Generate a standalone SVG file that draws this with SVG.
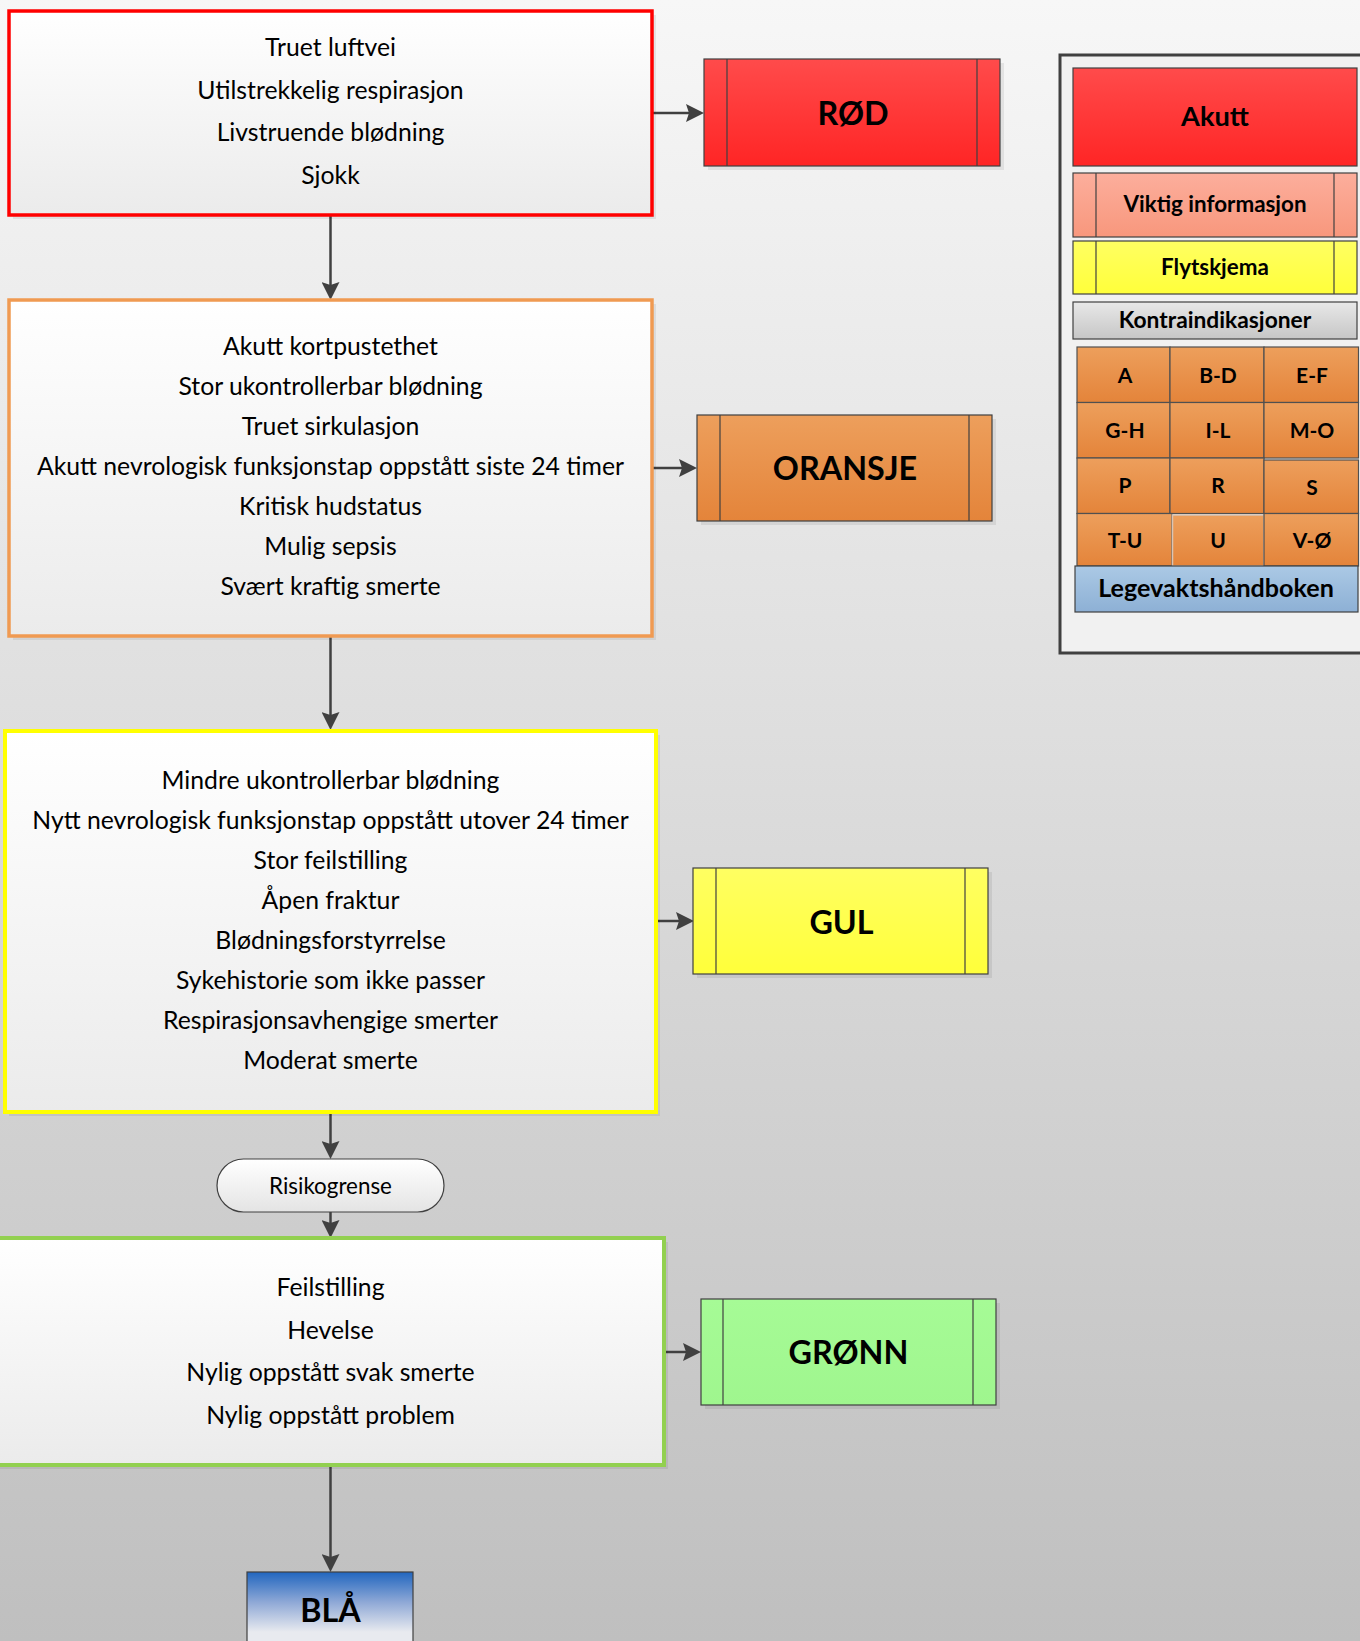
<svg xmlns="http://www.w3.org/2000/svg" width="1360" height="1641" viewBox="0 0 1360 1641">
<defs>
<linearGradient id="bg" x1="0" y1="0" x2="0" y2="1"><stop offset="0" stop-color="#f7f7f7"/><stop offset="1" stop-color="#bfbfbf"/></linearGradient>
<linearGradient id="boxfill" x1="0" y1="0" x2="0" y2="1"><stop offset="0" stop-color="#ffffff"/><stop offset="1" stop-color="#ebebeb"/></linearGradient>
<linearGradient id="red" x1="0" y1="0" x2="0" y2="1"><stop offset="0" stop-color="#ff4b4b"/><stop offset="1" stop-color="#ff2525"/></linearGradient>
<linearGradient id="orange" x1="0" y1="0" x2="0" y2="1"><stop offset="0" stop-color="#ed9f5c"/><stop offset="1" stop-color="#e4843a"/></linearGradient>
<linearGradient id="yellow" x1="0" y1="0" x2="0" y2="1"><stop offset="0" stop-color="#ffff62"/><stop offset="1" stop-color="#ffff3a"/></linearGradient>
<linearGradient id="green" x1="0" y1="0" x2="0" y2="1"><stop offset="0" stop-color="#a6fb96"/><stop offset="1" stop-color="#9ff68e"/></linearGradient>
<linearGradient id="salmon" x1="0" y1="0" x2="0" y2="1"><stop offset="0" stop-color="#fcae9c"/><stop offset="1" stop-color="#f8977c"/></linearGradient>
<linearGradient id="gray" x1="0" y1="0" x2="0" y2="1"><stop offset="0" stop-color="#e8e8e8"/><stop offset="1" stop-color="#c6c6c6"/></linearGradient>
<linearGradient id="lblue" x1="0" y1="0" x2="0" y2="1"><stop offset="0" stop-color="#abc9e5"/><stop offset="1" stop-color="#8db0d5"/></linearGradient>
<linearGradient id="pill" x1="0" y1="0" x2="0" y2="1"><stop offset="0" stop-color="#ffffff"/><stop offset="1" stop-color="#e4e4e4"/></linearGradient>
<linearGradient id="bla" gradientUnits="userSpaceOnUse" x1="0" y1="1572" x2="0" y2="1632"><stop offset="0" stop-color="#2166bf"/><stop offset="0.5" stop-color="#8ea8d6"/><stop offset="1" stop-color="#e8eaef"/></linearGradient>
<marker id="arrow" markerUnits="userSpaceOnUse" markerWidth="18" markerHeight="18" refX="8" refY="9" orient="auto">
<path d="M0,0 L18,9 L0,18 L3,9 z" fill="#404040"/>
</marker>
<style>
.conn{stroke:#404040;stroke-width:2.5;fill:none;marker-end:url(#arrow)}
.shadow{fill:#000;opacity:0.07}
.main{font-family:Lato,"Open Sans","Liberation Sans",sans-serif;font-size:24.75px;fill:#000;text-anchor:middle}
.big{font-family:Lato,"Open Sans","Liberation Sans",sans-serif;font-size:32.3px;font-weight:bold;fill:#000;text-anchor:middle}
.leg{font-family:Lato,"Open Sans","Liberation Sans",sans-serif;font-size:22.4px;font-weight:bold;fill:#000;text-anchor:middle}
.cell{font-family:Lato,"Open Sans","Liberation Sans",sans-serif;font-size:21px;font-weight:bold;fill:#000;text-anchor:middle}
.pilltxt{font-family:Lato,"Open Sans","Liberation Sans",sans-serif;font-size:22.4px;fill:#000;text-anchor:middle}
.thin{stroke:#404040;stroke-width:1.2}
.div{stroke:#404040;stroke-width:1.2}
.gcell{fill:url(#orange);stroke:#505050;stroke-width:1.2}
</style>
</defs>
<rect x="0" y="0" width="1360" height="1641" fill="url(#bg)"/>

<g id="connectors">
<line class="conn" x1="330.5" y1="216" x2="330.5" y2="290"/>
<line class="conn" x1="653" y1="113" x2="694" y2="113"/>
<line class="conn" x1="653" y1="468" x2="687" y2="468"/>
<line class="conn" x1="330.5" y1="637" x2="330.5" y2="720"/>
<line class="conn" x1="657" y1="921" x2="684" y2="921"/>
<line class="conn" x1="330.5" y1="1113" x2="330.5" y2="1149"/>
<line class="conn" x1="330.5" y1="1212" x2="330.5" y2="1228"/>
<line class="conn" x1="665" y1="1352" x2="691" y2="1352"/>
<line class="conn" x1="330.5" y1="1466" x2="330.5" y2="1562"/>
</g>

<g id="node-red-criteria">
<rect class="shadow" x="13" y="15" width="643" height="204"/>
<rect x="9" y="11" width="643" height="204" fill="url(#boxfill)" stroke="#ff0000" stroke-width="3.5"/>
<text class="main" x="330.5" y="56">Truet luftvei</text>
<text class="main" x="330.5" y="98.5">Utilstrekkelig respirasjon</text>
<text class="main" x="330.5" y="141">Livstruende blødning</text>
<text class="main" x="330.5" y="183.5">Sjokk</text>
</g>

<g id="node-rod">
<rect class="shadow" x="708" y="63" width="296" height="107"/>
<rect x="704" y="59" width="296" height="107" fill="url(#red)" class="thin"/>
<line class="div" x1="727" y1="59" x2="727" y2="166"/>
<line class="div" x1="977" y1="59" x2="977" y2="166"/>
<text class="big" x="853" y="124.5">RØD</text>
</g>

<g id="node-orange-criteria">
<rect class="shadow" x="13" y="304" width="643" height="336"/>
<rect x="9" y="300" width="643" height="336" fill="url(#boxfill)" stroke="#f09a52" stroke-width="3.5"/>
<text class="main" x="330.5" y="355">Akutt kortpustethet</text>
<text class="main" x="330.5" y="395">Stor ukontrollerbar blødning</text>
<text class="main" x="330.5" y="435">Truet sirkulasjon</text>
<text class="main" x="330.5" y="474.5">Akutt nevrologisk funksjonstap oppstått siste 24 timer</text>
<text class="main" x="330.5" y="515">Kritisk hudstatus</text>
<text class="main" x="330.5" y="555">Mulig sepsis</text>
<text class="main" x="330.5" y="595">Svært kraftig smerte</text>
</g>

<g id="node-oransje">
<rect class="shadow" x="701" y="419" width="295" height="106"/>
<rect x="697" y="415" width="295" height="106" fill="url(#orange)" class="thin"/>
<line class="div" x1="720" y1="415" x2="720" y2="521"/>
<line class="div" x1="969" y1="415" x2="969" y2="521"/>
<text class="big" x="845" y="480">ORANSJE</text>
</g>

<g id="node-yellow-criteria">
<rect class="shadow" x="9" y="735" width="651" height="381"/>
<rect x="5" y="731" width="651" height="381" fill="url(#boxfill)" stroke="#ffff00" stroke-width="4"/>
<text class="main" x="330.5" y="788.5">Mindre ukontrollerbar blødning</text>
<text class="main" x="330.5" y="828.5">Nytt nevrologisk funksjonstap oppstått utover 24 timer</text>
<text class="main" x="330.5" y="868.5">Stor feilstilling</text>
<text class="main" x="330.5" y="908.5">Åpen fraktur</text>
<text class="main" x="330.5" y="948.5">Blødningsforstyrrelse</text>
<text class="main" x="330.5" y="988.5">Sykehistorie som ikke passer</text>
<text class="main" x="330.5" y="1028.5">Respirasjonsavhengige smerter</text>
<text class="main" x="330.5" y="1068.5">Moderat smerte</text>
</g>

<g id="node-gul">
<rect class="shadow" x="697" y="872" width="295" height="106"/>
<rect x="693" y="868" width="295" height="106" fill="url(#yellow)" class="thin"/>
<line class="div" x1="716" y1="868" x2="716" y2="974"/>
<line class="div" x1="965" y1="868" x2="965" y2="974"/>
<text class="big" x="841.5" y="933.5">GUL</text>
</g>

<g id="node-risikogrense">
<rect x="217" y="1159" width="227" height="53" rx="26.5" ry="26.5" fill="url(#pill)" stroke="#404040" stroke-width="1.2"/>
<text class="pilltxt" x="330.5" y="1193.5">Risikogrense</text>
</g>

<g id="node-green-criteria">
<rect class="shadow" x="0" y="1242" width="668" height="227"/>
<rect x="-4" y="1238" width="668" height="227" fill="url(#boxfill)" stroke="#92d050" stroke-width="4"/>
<text class="main" x="330.5" y="1296">Feilstilling</text>
<text class="main" x="330.5" y="1338.5">Hevelse</text>
<text class="main" x="330.5" y="1381">Nylig oppstått svak smerte</text>
<text class="main" x="330.5" y="1423.5">Nylig oppstått problem</text>
</g>

<g id="node-gronn">
<rect class="shadow" x="705" y="1303" width="295" height="106"/>
<rect x="701" y="1299" width="295" height="106" fill="url(#green)" class="thin"/>
<line class="div" x1="723" y1="1299" x2="723" y2="1405"/>
<line class="div" x1="973" y1="1299" x2="973" y2="1405"/>
<text class="big" x="848.5" y="1364">GRØNN</text>
</g>

<g id="node-bla">
<rect x="247" y="1572" width="166" height="90" fill="url(#bla)" class="thin"/>
<text class="big" x="330.5" y="1622">BLÅ</text>
</g>

<g id="legend">
<rect x="1060" y="55" width="320" height="598" fill="#f1f1f1" stroke="#404040" stroke-width="3"/>
<g id="legend-akutt">
<rect x="1073" y="68" width="284" height="98" fill="url(#red)" class="thin"/>
<text class="leg" x="1215" y="126" style="font-size:27.2px">Akutt</text>
</g>
<g id="legend-viktig">
<rect x="1073" y="173" width="284" height="64" fill="url(#salmon)" class="thin"/>
<line class="div" x1="1096" y1="173" x2="1096" y2="237"/>
<line class="div" x1="1334" y1="173" x2="1334" y2="237"/>
<text class="leg" x="1215" y="212">Viktig informasjon</text>
</g>
<g id="legend-flytskjema">
<rect x="1073" y="241" width="284" height="53" fill="url(#yellow)" class="thin"/>
<line class="div" x1="1096" y1="241" x2="1096" y2="294"/>
<line class="div" x1="1334" y1="241" x2="1334" y2="294"/>
<text class="leg" x="1215" y="275">Flytskjema</text>
</g>
<g id="legend-kontra">
<rect x="1073" y="302" width="284" height="37" fill="url(#gray)" class="thin"/>
<text class="leg" x="1215" y="328" style="font-size:22.8px">Kontraindikasjoner</text>
</g>
<g id="legend-grid">
<rect class="gcell" x="1077" y="347" width="93" height="55.5"/>
<rect class="gcell" x="1170" y="347" width="94" height="55.5"/>
<rect class="gcell" x="1264" y="347" width="94.5" height="55.5"/>
<rect class="gcell" x="1077" y="402.5" width="93" height="55.5"/>
<rect class="gcell" x="1170" y="402.5" width="94" height="55.5"/>
<rect class="gcell" x="1264" y="402.5" width="94.5" height="55.5"/>
<rect class="gcell" x="1077" y="458" width="93" height="55.5"/>
<rect class="gcell" x="1170" y="458" width="94" height="55.5"/>
<rect class="gcell" x="1264" y="460" width="94.5" height="53.5"/>
<rect class="gcell" x="1077" y="513.5" width="95" height="52.5"/>
<rect x="1172.5" y="515" width="91.5" height="51" fill="url(#orange)" stroke="#d8c4b4" stroke-width="1.5"/>
<rect class="gcell" x="1264" y="513.5" width="94.5" height="52.5"/>
<text class="cell" x="1125" y="383">A</text>
<text class="cell" x="1218" y="383">B-D</text>
<text class="cell" x="1312" y="383">E-F</text>
<text class="cell" x="1125" y="438">G-H</text>
<text class="cell" x="1218" y="438">I-L</text>
<text class="cell" x="1312" y="438">M-O</text>
<text class="cell" x="1125" y="493">P</text>
<text class="cell" x="1218" y="493">R</text>
<text class="cell" x="1312" y="495">S</text>
<text class="cell" x="1125" y="548">T-U</text>
<text class="cell" x="1218" y="548">U</text>
<text class="cell" x="1312" y="548">V-Ø</text>
</g>
<g id="legend-legevakt">
<rect x="1075" y="566" width="283" height="46" fill="url(#lblue)" class="thin"/>
<text class="leg" x="1216" y="597" style="font-size:25.1px">Legevaktshåndboken</text>
</g>
</g>
</svg>
